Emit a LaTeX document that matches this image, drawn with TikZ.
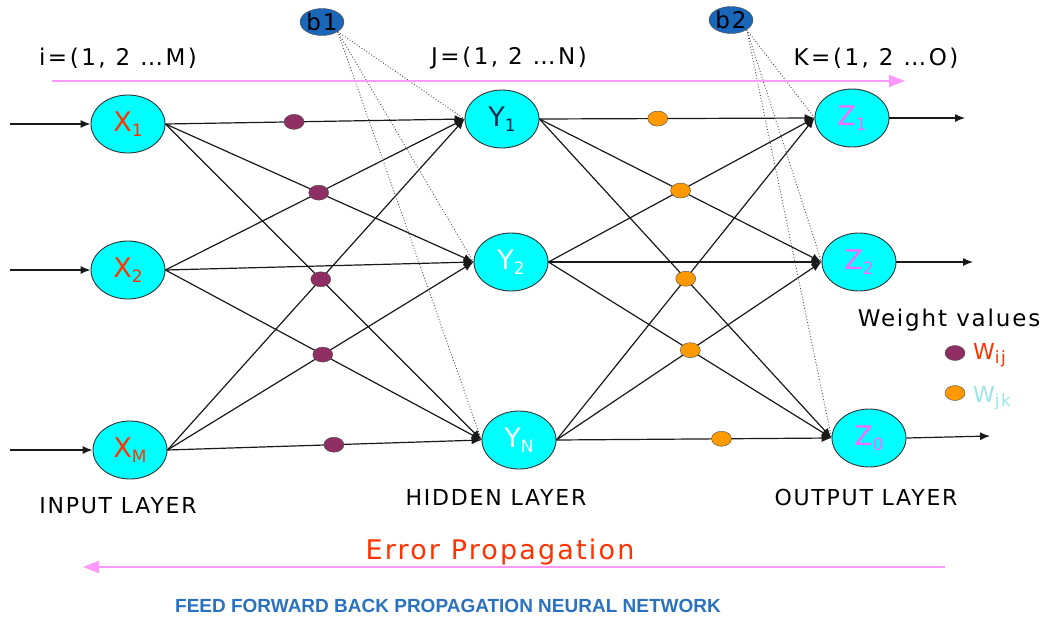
\documentclass[tikz,border=0pt]{standalone}
\usepackage{fontspec}
\setmainfont{DejaVu Sans}[LetterSpace=8]
\newfontfamily\titlefont{Liberation Sans}
\usetikzlibrary{arrows.meta, shapes.geometric}
\definecolor{cNeuron}{HTML}{00FFFF}
\definecolor{cBias}  {HTML}{1A66B8}
\definecolor{cWij}   {HTML}{8E2E63}
\definecolor{cWjk}   {HTML}{FF9900}
\definecolor{cPink}  {HTML}{FF99FF}
\definecolor{cRed}   {HTML}{FF3300}
\definecolor{cMag}   {HTML}{FF66FF}
\definecolor{cNavy}  {HTML}{0D2A4A}
\definecolor{cTeal}  {HTML}{99E6E6}
\definecolor{cTitle} {HTML}{2A72C0}
\newcommand{\lo}[1]{\raisebox{-0.35ex}{\fontsize{17}{17}\selectfont #1}}

\begin{document}
\begin{tikzpicture}[x=1pt, y=-1pt,
      neuron/.style = {ellipse, draw=black!80, line width=0.9pt, fill=cNeuron, minimum width=74pt, minimum height=58pt, inner sep=0pt, font=\fontsize{27}{27}\selectfont},
      bias/.style   = {ellipse, draw=black!70, fill=cBias, minimum width=40pt, minimum height=27pt, inner sep=0pt, font=\fontsize{23}{23}\selectfont},
      wij/.style    = {ellipse, draw=black!70, fill=cWij, minimum width=20pt, minimum height=15pt, inner sep=0pt},
      wjk/.style    = {ellipse, draw=black!70, fill=cWjk, minimum width=20pt, minimum height=15pt, inner sep=0pt},
      ln/.style     = {-{Latex[length=10pt, width=8pt]}, draw=black!90, line width=1.2pt},
      bl/.style     = {draw=black!70, dotted, line width=0.9pt},
      pk/.style     = {-{Triangle[length=16pt, width=12pt]}, draw=cPink, line width=1.4pt},
      lbl/.style    = {font=\fontsize{22}{22}\selectfont, inner sep=0pt} ]
    \useasboundingbox (0,0) rectangle (1048,616);

    \node[neuron, text=cRed]  (x1) at (128,124) {X\lo{1}};
    \node[neuron, text=cRed]  (x2) at (128,270) {X\lo{2}};
    \node[neuron, text=cRed]  (xm) at (130,450) {X\lo{M}};
    \node[neuron, text=cNavy] (y1) at (502,119) {Y\lo{1}};
    \node[neuron, text=white] (y2) at (511,262) {Y\lo{2}};
    \node[neuron, text=white] (yn) at (519,440) {Y\lo{N}};
    \node[neuron, text=cMag]  (z1) at (852,118) {Z\lo{1}};
    \node[neuron, text=cMag]  (z2) at (859,262) {Z\lo{2}};
    \node[neuron, text=cMag]  (zo) at (869,438) {Z\lo{0}};

    \node[bias] (b1) at (322,22) {b1};
    \node[bias] (b2) at (731,20) {b2};

    \coordinate (in1) at (10,124);  \coordinate (in2) at (10,270);  \coordinate (in3) at (10,450);
    \coordinate (out1) at (965,118); \coordinate (out2) at (973,262); \coordinate (out3) at (990,436);

    \draw[ln] (in1) -- (x1.west); \draw[ln] (in2) -- (x2.west); \draw[ln] (in3) -- (xm.west);

    \draw[ln] (x1.east) -- (y1.west); \draw[ln] (x1.east) -- (y2.west); \draw[ln] (x1.east) -- (yn.west);
    \draw[ln] (x2.east) -- (y1.west); \draw[ln] (x2.east) -- (y2.west); \draw[ln] (x2.east) -- (yn.west);
    \draw[ln] (xm.east) -- (y1.west); \draw[ln] (xm.east) -- (y2.west); \draw[ln] (xm.east) -- (yn.west);

    \draw[ln] (y1.east) -- (z1.west); \draw[ln] (y1.east) -- (z2.west); \draw[ln] (y1.east) -- (zo.west);
    \draw[ln] (y2.east) -- (z1.west); \draw[ln] (y2.east) -- (z2.west); \draw[ln] (y2.east) -- (zo.west);
    \draw[ln] (yn.east) -- (z1.west); \draw[ln] (yn.east) -- (z2.west); \draw[ln] (yn.east) -- (zo.west);

    \draw[ln] (z1.east) -- (out1); \draw[ln] (z2.east) -- (out2); \draw[ln] (zo.east) -- (out3);

    \draw[bl] (b1.south east) -- (y1.west); \draw[bl] (b1.south east) -- (y2.west); \draw[bl] (b1.south east) -- (yn.west);
    \draw[bl] (b2.south east) -- (z1.west); \draw[bl] (b2.south east) -- (z2.west); \draw[bl] (b2.south east) -- (zo.west);

    \path (x1.east) -- (y1.west) node[wij, pos=0.43] (w1) {};
    \node[wij] (w2) at (intersection of x1.east--y2.west and x2.east--y1.west) {};
    \node[wij] (w3) at (intersection of x1.east--yn.west and xm.east--y1.west) {};
    \node[wij] (w4) at (intersection of x2.east--yn.west and xm.east--y2.west) {};
    \path (xm.east) -- (yn.west) node[wij, pos=0.53] (w5) {};

    \path (y1.east) -- (z1.west) node[wjk, pos=0.43] (v1) {};
    \node[wjk] (v2) at (intersection of y1.east--z2.west and y2.east--z1.west) {};
    \node[wjk] (v3) at (intersection of y1.east--zo.west and yn.east--z1.west) {};
    \node[wjk] (v4) at (intersection of y2.east--zo.west and yn.east--z2.west) {};
    \path (yn.east) -- (zo.west) node[wjk, pos=0.6] (v5) {};

    \node[lbl, font=\addfontfeature{LetterSpace=11}\fontsize{23}{23}\selectfont] (ii) at (118,58) {i=(1, 2 …M)};
    \node[lbl, font=\addfontfeature{LetterSpace=11}\fontsize{23}{23}\selectfont] (jj) at (509,58) {J=(1, 2 …N)};
    \node[lbl, font=\addfontfeature{LetterSpace=11}\fontsize{23}{23}\selectfont] (kk) at (876,58) {K=(1, 2 …O)};
    \coordinate (fw1) at (52,81);  \coordinate (fw2) at (905,81);
    \draw[pk] (fw1) -- (fw2);

    \node[lbl, font=\fontsize{23}{23}\selectfont] (wv) at (949,320) {Weight values};
    \node[wij] (lg1) at (955,353) {};
    \node[wjk] (lg2) at (955,393) {};
    \node[lbl, anchor=west, text=cRed]  (lw1) at (973,355) {W\lo{ij}};
    \node[lbl, anchor=west, text=cTeal] (lw2) at (973,398) {W\lo{jk}};

    \node[lbl] (il) at (118,506) {INPUT LAYER};
    \node[lbl] (hl) at (496,497) {HIDDEN LAYER};
    \node[lbl] (ol) at (866,497) {OUTPUT LAYER};

    \node[lbl, font=\fontsize{27}{27}\selectfont, text=cRed] (ep) at (500,552) {Error Propagation};
    \coordinate (bw1) at (945,567); \coordinate (bw2) at (83,567);
    \draw[pk] (bw1) -- (bw2);

    \node[inner sep=0pt, font=\titlefont\bfseries\fontsize{19}{19}\selectfont, text=cTitle] (tt) at (448,606)
      {FEED FORWARD BACK PROPAGATION NEURAL NETWORK};
  \end{tikzpicture}
\end{document}
